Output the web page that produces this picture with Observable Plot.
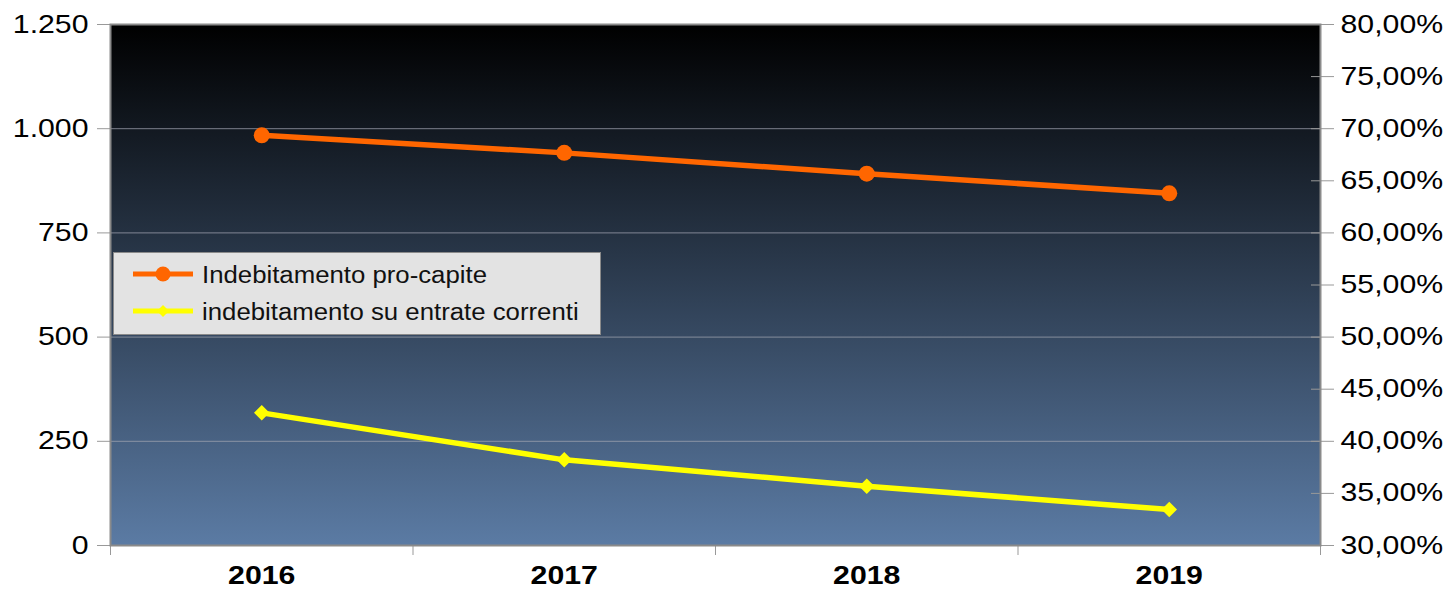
<!DOCTYPE html>
<html><head><meta charset="utf-8">
<script src="https://cdn.jsdelivr.net/npm/d3@7"></script>
<script src="https://cdn.jsdelivr.net/npm/@observablehq/plot@0.6"></script>
<style>
body{margin:0;background:#fff;}
#wrap{position:relative;width:1452px;height:590px;}
#legend{position:absolute;left:113px;top:252px;}
</style></head><body><div id="wrap"></div>
<script>
const years = [2016, 2017, 2018, 2019];
const proCapite = [984, 942, 892, 845];
const suEntrate = [42.73, 38.22, 35.69, 33.45]; // percent
const leftTicks = [0, 250, 500, 750, 1000, 1250];
const rightTicks = [30, 35, 40, 45, 50, 55, 60, 65, 70, 75, 80];
const seriesNames = ["Indebitamento pro-capite", "indebitamento su entrate correnti"];
const seriesColors = ["#ff6600", "#ffff00"];

const pctMin = 30, pctMax = 80, leftMax = 1250;
const pctToLeft = p => (p - pctMin) / (pctMax - pctMin) * leftMax;
const leftToPct = v => v / leftMax * (pctMax - pctMin) + pctMin;

const orange = years.map((year, i) => ({year, v: proCapite[i]}));
const yellow = years.map((year, i) => ({year, v: pctToLeft(suEntrate[i])}));
const boundaries = [...years.map(y => y - 0.5), years[years.length - 1] + 0.5];

const gradient = () => {
  const defs = d3.create("svg:defs");
  const g = defs.append("linearGradient").attr("id", "bg")
    .attr("x1", 0).attr("y1", 0).attr("x2", 0).attr("y2", 1);
  g.append("stop").attr("offset", "0%").attr("stop-color", "#000000");
  g.append("stop").attr("offset", "100%").attr("stop-color", "#5b7ba4");
  return defs.node();
};

const plot = Plot.plot({
  width: 1452, height: 590,
  marginLeft: 110, marginRight: 132, marginTop: 24, marginBottom: 45,
  style: {fontFamily: "'Liberation Sans', Arial, sans-serif", fontSize: "25px", color: "#000", background: "#fff"},
  x: {type: "linear", domain: [2015.5, 2019.5]},
  y: {domain: [0, 1250]},
  marks: [
    gradient,
    Plot.frame({fill: "url(#bg)"}),
    Plot.gridY(leftTicks.slice(1, -1), {stroke: "#a0a4b0", strokeOpacity: 0.75, strokeWidth: 1}),
    Plot.axisY(leftTicks, {anchor: "left", tickSize: 13, tickPadding: 9, stroke: "#999",
      tickFormat: d => d3.format(",")(d).replace(",", "."), label: null}),
    Plot.axisY(rightTicks.map(pctToLeft), {anchor: "right", tickSize: 23, tickPadding: 7, dx: -10, stroke: "#999",
      tickFormat: d => leftToPct(d).toFixed(2).replace(".", ",") + "%", label: null}),
    Plot.axisX(years, {tickSize: 0, tickPadding: 21, fontWeight: "bold", tickFormat: d => String(d), label: null}),
    Plot.axisX(boundaries, {tickSize: 10, stroke: "#999", tickFormat: () => "", label: null}),
    Plot.line(orange, {x: "year", y: "v", stroke: seriesColors[0], strokeWidth: 5.5}),
    Plot.dot(orange, {x: "year", y: "v", r: 8, fill: seriesColors[0]}),
    Plot.line(yellow, {x: "year", y: "v", stroke: seriesColors[1], strokeWidth: 5.5}),
    Plot.dot(yellow, {x: "year", y: "v", r: 7, symbol: "diamond2", fill: seriesColors[1]}),
    Plot.frame({stroke: "#8a8a8a", strokeWidth: 2})
  ]
});
const wrap = document.getElementById("wrap");
wrap.appendChild(plot);

// stretch tick labels horizontally to match reference
d3.select(plot).selectAll("g[aria-label$='tick label'] text").each(function() {
  const len = this.getComputedTextLength();
  if (len > 0) {
    this.setAttribute("textLength", len * 1.21);
    this.setAttribute("lengthAdjust", "spacingAndGlyphs");
  }
});

// legend
const lg = d3.select(wrap).append("svg").attr("id", "legend")
  .attr("width", 488).attr("height", 83)
  .style("font-family", "'Liberation Sans', Arial, sans-serif");
lg.append("rect").attr("x", 0.5).attr("y", 0.5).attr("width", 487).attr("height", 82)
  .attr("fill", "#e3e3e3").attr("stroke", "#8a8a8a");
const rowY = [22, 59];
seriesNames.forEach((name, i) => {
  const y = rowY[i];
  lg.append("line").attr("x1", 20).attr("x2", 80).attr("y1", y).attr("y2", y)
    .attr("stroke", seriesColors[i]).attr("stroke-width", 5);
  if (i === 0) {
    lg.append("circle").attr("cx", 50).attr("cy", y).attr("r", 7.5).attr("fill", seriesColors[i]);
  } else {
    lg.append("path").attr("d", `M50,${y-6}L56,${y}L50,${y+6}L44,${y}Z`).attr("fill", seriesColors[i]);
  }
  const t = lg.append("text").attr("x", 89).attr("y", y + 8.5).attr("font-size", 23).attr("fill", "#111").text(name);
  const len = t.node().getComputedTextLength();
  t.attr("textLength", len * 1.12).attr("lengthAdjust", "spacingAndGlyphs");
});
</script>
</body></html>
